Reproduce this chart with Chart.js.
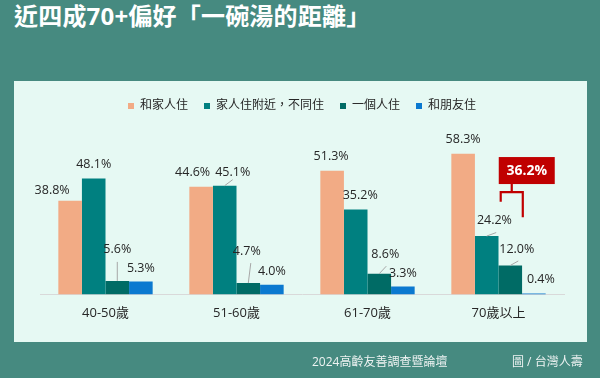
<!DOCTYPE html>
<html><head><meta charset="utf-8">
<script src="https://cdn.jsdelivr.net/npm/chart.js@4.4.1/dist/chart.umd.min.js"></script>
<style>
html,body{margin:0;padding:0;}
body{width:600px;height:378px;background:#468A80;position:relative;overflow:hidden;font-family:'Open Sans','Noto Sans CJK TC',sans-serif;}
#title{position:absolute;left:14px;top:0;line-height:32px;color:#fff;font-weight:bold;font-size:24px;letter-spacing:0.2px;font-family:'Open Sans','Noto Sans CJK TC',sans-serif;white-space:nowrap;}
#panel{position:absolute;left:14px;top:81px;width:573px;height:261px;background:#E6F9F3;}
#c{position:absolute;left:0;top:0;}
.foot{position:absolute;top:353px;line-height:17px;color:#EEF3F2;font-size:12px;font-family:'Open Sans','Noto Sans CJK TC',sans-serif;white-space:nowrap;}
</style></head>
<body>
<div id="title">近四成70+偏好「一碗湯的距離」</div>
<div id="panel"></div>
<canvas id="c" width="600" height="378"></canvas>
<div class="foot" style="left:312px">2024高齡友善調查暨論壇</div>
<div class="foot" style="left:512px">圖 / 台灣人壽</div>
<script>
const categories = ['40-50歲','51-60歲','61-70歲','70歲以上'];
const seriesNames = ['和家人住','家人住附近，不同住','一個人住','和朋友住'];
const withFamily   = [38.8, 44.6, 51.3, 58.3];
const nearFamily   = [48.1, 45.1, 35.2, 24.2];
const livingAlone  = [5.6, 4.7, 8.6, 12.0];
const withFriends  = [5.3, 4.0, 3.3, 0.4];
const colors = ['#F2AB85','#008080','#006B65','#0B79D0'];

// label offsets (dx, dy) from bar top centre, per series/category
const labelOffsets = [
  [[-18,-10.5],[-8.5,-14],[-1,-14],[0,-14.5]],
  [[0,-14],[8,-13],[4.5,-14],[7.7,-16]],
  [[0,-31.6],[-1.5,-32],[6,-19.4],[6.5,-16]],
  [[0,-13.6],[0,-13.7],[0,-13.4],[7,-14]]
];
const leaderLines = [
  [null,null,null,null],
  [null,[8,-6],null,[9.5,-3.5]],
  [[0,-19],[2.5,-20],[7,-7.5],[8,-4.5]],
  [null,null,null,null]
];
const FONT = "'Open Sans','Noto Sans CJK TC',sans-serif";

const labelPlugin = {
  id:'barLabels',
  afterDatasetsDraw(chart){
    const ctx = chart.ctx;
    ctx.save();
    ctx.font = "12.5px " + FONT;
    ctx.textAlign='center'; ctx.textBaseline='middle';
    chart.data.datasets.forEach((ds,di)=>{
      const meta = chart.getDatasetMeta(di);
      meta.data.forEach((bar,i)=>{
        const off = labelOffsets[di][i];
        const lead = leaderLines[di][i];
        if (lead){
          ctx.strokeStyle='#A6A6A6'; ctx.lineWidth=1;
          ctx.beginPath(); ctx.moveTo(bar.x, bar.y); ctx.lineTo(bar.x+lead[0], bar.y+lead[1]); ctx.stroke();
        }
        ctx.fillStyle='#262626';
        ctx.fillText(ds.data[i].toFixed(1)+'%', bar.x+off[0], bar.y+off[1]);
      });
    });
    // annotation bracket for last category: near family + alone
    const last = categories.length-1;
    const b1 = chart.getDatasetMeta(1).data[last];
    const b2 = chart.getDatasetMeta(2).data[last];
    const xl = b1.x+14, xr = b2.x+12.5, xs = (xl+xr)/2;
    const yh = b1.y-44;
    ctx.strokeStyle='#C00000'; ctx.lineWidth=2.2;
    ctx.beginPath();
    ctx.moveTo(xl, b1.y-34.4); ctx.lineTo(xl, yh); ctx.lineTo(xr, yh); ctx.lineTo(xr, b2.y-48.3);
    ctx.moveTo(xs, yh); ctx.lineTo(xs, yh-9);
    ctx.stroke();
    const bx = xs-13, bw = 56, bh = 27, by = yh-8-bh;
    ctx.fillStyle='#C00000';
    ctx.fillRect(bx, by, bw, bh);
    ctx.fillStyle='#fff';
    ctx.font = "bold 14px " + FONT;
    const total = (nearFamily[last]+livingAlone[last]).toFixed(1)+'%';
    ctx.fillText(total, bx+bw/2, by+bh/2+0.5);
    ctx.restore();
  }
};

const seriesData = [withFamily, nearFamily, livingAlone, withFriends];
new Chart(document.getElementById('c'), {
  type:'bar',
  data:{
    labels:categories,
    datasets: seriesData.map((d,i)=>({
      label:seriesNames[i], data:d, backgroundColor:colors[i], borderWidth:0,
      categoryPercentage:0.72, barPercentage:1
    }))
  },
  options:{
    responsive:false, animation:false, devicePixelRatio:1,
    layout:{padding:{left:40,right:36,top:84,bottom:46}},
    plugins:{
      legend:{position:'top',labels:{boxWidth:6,boxHeight:6,padding:16,color:'#262626',font:{size:12,family:FONT}}},
      tooltip:{enabled:false}
    },
    scales:{
      x:{grid:{display:false,drawTicks:false},border:{display:true,color:'#D9D9D9',width:1},
         ticks:{padding:11,color:'#262626',font:{size:13,family:FONT}}},
      y:{display:false,min:0,max:71.5}
    }
  },
  plugins:[labelPlugin]
});
</script>
</body></html>
